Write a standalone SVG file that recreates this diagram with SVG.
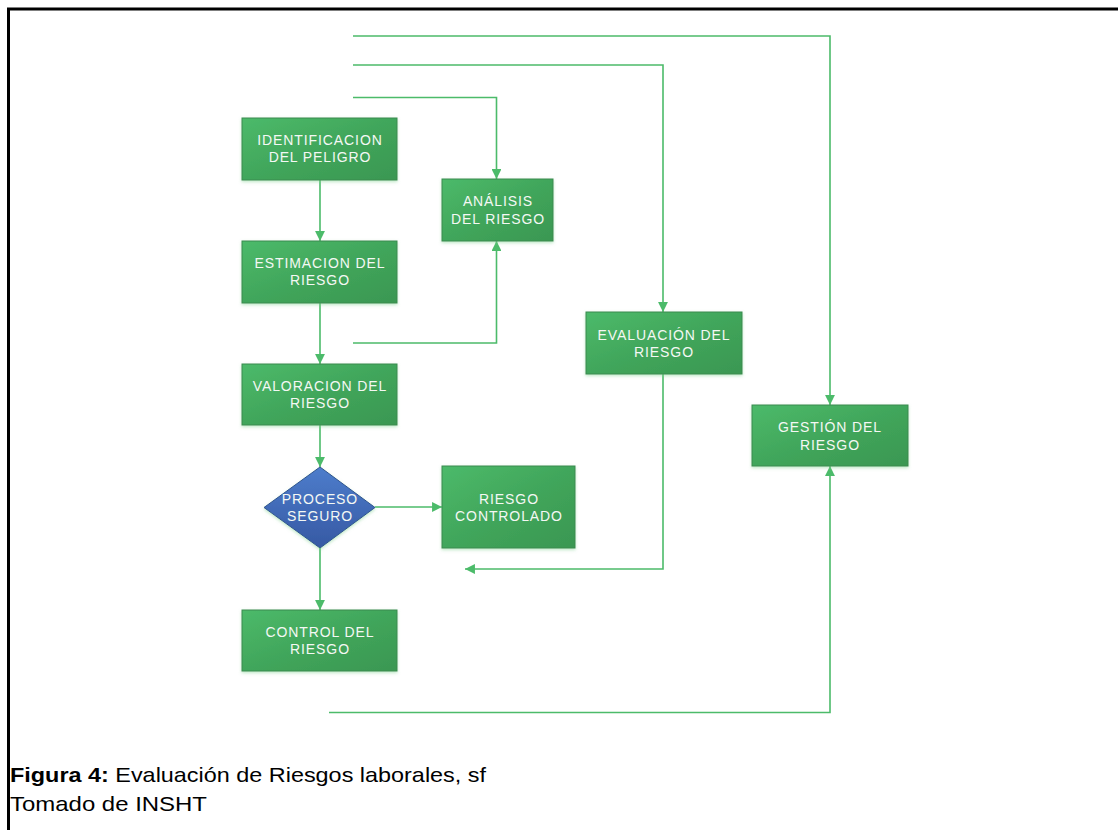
<svg xmlns="http://www.w3.org/2000/svg" width="1118" height="830" viewBox="0 0 1118 830">
<style>
.box{fill:url(#gGreen);stroke:#3A8A4E;stroke-width:1;filter:url(#sh)}
.dia{fill:url(#gBlue);stroke:#2F528F;stroke-width:1;filter:url(#sh)}
.t{font-family:"Liberation Sans",Arial,sans-serif;font-size:14px;fill:#F4F8F4;text-anchor:middle;letter-spacing:0.9px}
.c{fill:none;stroke:#4CBB6A;stroke-width:1.6}
.cap{font-family:"Liberation Sans",Arial,sans-serif;font-size:21px;fill:#000}
</style>
<defs>
<linearGradient id="gGreen" x1="0" y1="0" x2="1" y2="1">
<stop offset="0" stop-color="#4CBA6A"/>
<stop offset="0.5" stop-color="#41A65B"/>
<stop offset="1" stop-color="#3A9752"/>
</linearGradient>
<linearGradient id="gBlue" x1="0" y1="0" x2="0" y2="1">
<stop offset="0" stop-color="#4D7DCC"/>
<stop offset="1" stop-color="#3659A3"/>
</linearGradient>
<filter id="sh" x="-10%" y="-10%" width="120%" height="130%">
<feDropShadow dx="0" dy="1.5" stdDeviation="1.5" flood-color="#7FD08F" flood-opacity="0.5"/>
</filter>
<marker id="ah" viewBox="0 0 10 10" refX="10" refY="5" markerWidth="6.2" markerHeight="6.2" orient="auto" markerUnits="strokeWidth">
<path d="M0,0 L10,5 L0,10 z" fill="#4CBB6A"/>
</marker>
</defs>
<rect x="0" y="0" width="1118" height="830" fill="#FFFFFF"/>
<g id="frame">
<line x1="7" y1="9" x2="1118" y2="9" stroke="#000" stroke-width="3"/>
<line x1="8.5" y1="8" x2="8.5" y2="830" stroke="#000" stroke-width="3"/>
</g>
<g id="connectors">
<polyline class="c" points="353,36 830,36 830,405" marker-end="url(#ah)"/>
<polyline class="c" points="353,65 663,65 663,312" marker-end="url(#ah)"/>
<polyline class="c" points="353,97.5 496.5,97.5 496.5,179" marker-end="url(#ah)"/>
<line class="c" x1="320" y1="180" x2="320" y2="241" marker-end="url(#ah)"/>
<line class="c" x1="320" y1="303" x2="320" y2="364" marker-end="url(#ah)"/>
<polyline class="c" points="353,343 496.5,343 496.5,241" marker-end="url(#ah)"/>
<line class="c" x1="320" y1="425" x2="320" y2="467" marker-end="url(#ah)"/>
<line class="c" x1="375" y1="507" x2="442" y2="507" marker-end="url(#ah)"/>
<line class="c" x1="320" y1="548" x2="320" y2="610" marker-end="url(#ah)"/>
<polyline class="c" points="663,374 663,569 465,569" marker-end="url(#ah)"/>
<polyline class="c" points="329,712.5 830,712.5 830,466" marker-end="url(#ah)"/>
</g>
<g id="identificacion">
<rect class="box" x="242" y="118" width="155" height="62"/>
<text class="t" x="320" y="145">IDENTIFICACION</text>
<text class="t" x="320" y="162">DEL PELIGRO</text>
</g>
<g id="analisis">
<rect class="box" x="442" y="179" width="111" height="62"/>
<text class="t" x="498" y="206">ANÁLISIS</text>
<text class="t" x="498" y="224">DEL RIESGO</text>
</g>
<g id="estimacion">
<rect class="box" x="242" y="241" width="155" height="62"/>
<text class="t" x="320" y="268">ESTIMACION DEL</text>
<text class="t" x="320" y="285">RIESGO</text>
</g>
<g id="valoracion">
<rect class="box" x="242" y="364" width="155" height="61"/>
<text class="t" x="320" y="391">VALORACION DEL</text>
<text class="t" x="320" y="408">RIESGO</text>
</g>
<g id="proceso">
<polygon class="dia" points="320,467 375,507.5 320,548 264,507.5"/>
<text class="t" x="320" y="504">PROCESO</text>
<text class="t" x="320" y="521">SEGURO</text>
</g>
<g id="controlado">
<rect class="box" x="442" y="466" width="133" height="82"/>
<text class="t" x="509" y="504">RIESGO</text>
<text class="t" x="509" y="521">CONTROLADO</text>
</g>
<g id="evaluacion">
<rect class="box" x="586" y="312" width="156" height="62"/>
<text class="t" x="664" y="340">EVALUACIÓN DEL</text>
<text class="t" x="664" y="357">RIESGO</text>
</g>
<g id="gestion">
<rect class="box" x="752" y="405" width="156" height="61"/>
<text class="t" x="830" y="432">GESTIÓN DEL</text>
<text class="t" x="830" y="450">RIESGO</text>
</g>
<g id="control">
<rect class="box" x="242" y="610" width="155" height="61"/>
<text class="t" x="320" y="637">CONTROL DEL</text>
<text class="t" x="320" y="654">RIESGO</text>
</g>
<g id="caption">
<text class="cap" x="10" y="782" textLength="476" lengthAdjust="spacingAndGlyphs"><tspan font-weight="bold">Figura 4:</tspan> Evaluación de Riesgos laborales, sf</text>
<text class="cap" x="10" y="811" textLength="197" lengthAdjust="spacingAndGlyphs">Tomado de INSHT</text>
</g>
</svg>
